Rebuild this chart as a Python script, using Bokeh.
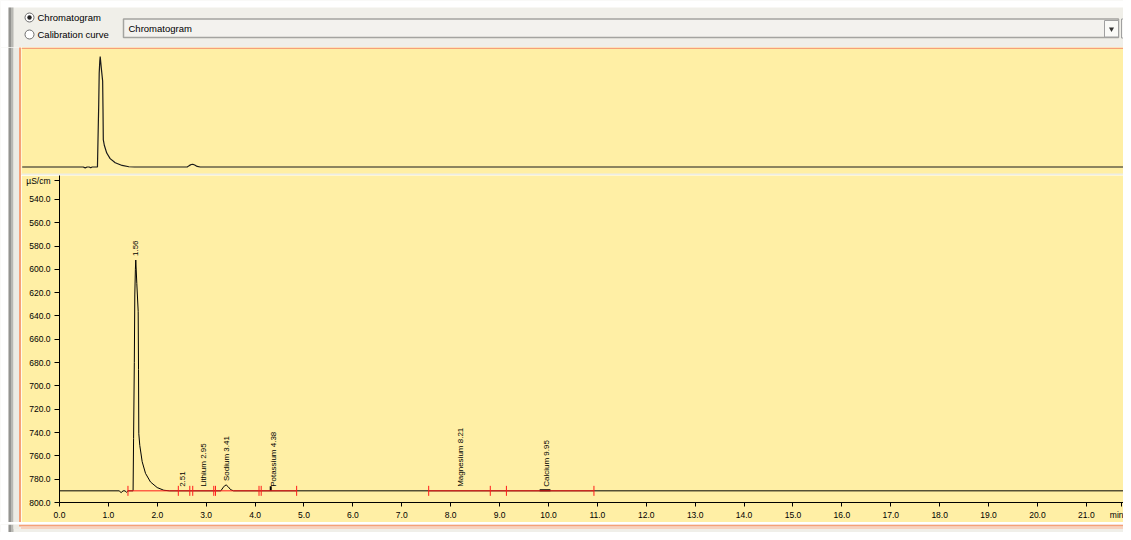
import math
from bokeh.plotting import figure
from bokeh.layouts import column, row
from bokeh.models import Range1d, FixedTicker, PrintfTickFormatter, BoxAnnotation
from bokeh.core.properties import value
from bokeh.embed import file_html
from bokeh.resources import INLINE

# ---------------- data ----------------
TIME = [0.0, 1.22, 1.26, 1.30, 1.34, 1.37, 1.40, 1.505, 1.515, 1.530, 1.540, 1.552,
        1.560, 1.581, 1.609, 1.616, 1.622, 1.642, 1.691, 1.759, 1.861, 1.998, 2.133,
        2.25, 3.30, 3.34, 3.38, 3.41, 3.45, 3.50, 3.56, 22.2]
SIGNAL = [790, 790, 791.5, 790, 790, 791.2, 790, 790, 745, 680, 622, 600,
          592, 612, 636, 686, 741, 751, 765, 775, 782.4, 787.2, 789.5,
          790, 790, 787.5, 785.5, 785, 786.5, 789, 790, 790]

PEAK_TIMES = [1.56, 2.51, 2.95, 3.41, 4.38, 8.21, 9.95]
PEAK_NAMES = ["", "", "Lithium", "Sodium", "Potassium", "Magnesium", "Calcium"]
PEAK_APEX = [592, 790, 790, 785, 790, 790, 790]

# small black peak markers (Potassium, Calcium)
MARK_T0 = [4.32, 9.82]
MARK_T1 = [4.32, 10.04]
MARK_V0 = [786.0, 789.4]
MARK_V1 = [790.0, 789.4]

INTEG_START = [1.40, 7.55]
INTEG_END = [4.85, 10.93]
INTEG_LEVEL = 790
INTEG_MARKS = [1.40, 2.43, 2.665, 2.725, 3.155, 3.19, 4.08, 4.125, 4.85,
               7.55, 8.81, 9.14, 10.93]

X_TICKS = [0, 1, 2, 3, 4, 5, 6, 7, 8, 9, 10, 11, 12, 13, 14, 15, 16, 17, 18, 19, 20, 21]
Y_TICKS = [540, 560, 580, 600, 620, 640, 660, 680, 700, 720, 740, 760, 780, 800]
Y_UNIT = "µS/cm"
X_UNIT = "min"
VIEW_OPTIONS = ["Chromatogram", "Calibration curve"]
SELECTED_VIEW = "Chromatogram"

# ---------------- styles ----------------
YELLOW = "#FFEFA5"
ORANGE = "#F5A078"
SALMON = "#F8D2BE"
WIN = "#F0EFE9"
DARKBAR = "#939390"
MIDBAR = "#B8B8B3"
LIGHTBAR = "#ECEBE4"
FONT = value("Liberation Sans")
W = 1123
COMMON = dict(toolbar_location=None, output_backend="svg", title_location=None,
              frame_align=False)


def chrome_fig(width, height, x0, y0):
    f = figure(width=width, height=height, x_range=Range1d(x0, x0 + width),
               y_range=Range1d(y0 + height, y0), min_border=0,
               x_axis_type=None, y_axis_type=None, **COMMON)
    f.background_fill_color = WIN
    f.border_fill_color = WIN
    f.outline_line_color = None
    return f


def box(f, l, r, t, b, color):
    f.quad(left=[l], right=[r], top=[t], bottom=[b], fill_color=color, line_color=None)


def deco(p, left, right, top, bottom, color):
    p.add_layout(BoxAnnotation(left=left, right=right, top=top, bottom=bottom,
                               left_units="canvas", right_units="canvas",
                               top_units="canvas", bottom_units="canvas",
                               fill_color=color, fill_alpha=1.0, line_color=None,
                               level="annotation"))


# ---------------- header (window chrome), page rows 0..47 ----------------
fh = chrome_fig(W, 47, 0, 0)
box(fh, 0, W, 0, 7, "#FFFFFF")
box(fh, 0, 8, 0, 47, "#FFFFFF")
box(fh, 8, 10.5, 7, 47, DARKBAR)
box(fh, 10.5, 13, 7, 47, MIDBAR)
fh.circle(x=[29, 29], y=[17, 34], radius=4.5, fill_color="white", line_color="#6d6d6d", line_width=1)
fh.circle(x=[29], y=[17], radius=2.2, fill_color="#222222", line_color=None)
fh.text(x=[37, 37], y=[17, 34], text=VIEW_OPTIONS, text_align="left", text_baseline="middle",
        text_font=FONT, text_font_size="9.5px", text_color="#000000")
fh.quad(left=[123], right=[1118], top=[18.5], bottom=[37], fill_color="#F3F2EE",
        line_color="#A4A4A0", line_width=1.5)
fh.text(x=[128], y=[28], text=[SELECTED_VIEW], text_align="left", text_baseline="middle",
        text_font=FONT, text_font_size="9.5px", text_color="#000000")
fh.quad(left=[1104], right=[1118], top=[20], bottom=[36.5], fill_color="#FAFAF7",
        line_color="#A0A0A0", line_width=1)
fh.scatter(x=[1111], y=[28.5], marker="inverted_triangle", size=5, fill_color="#333333", line_color=None)
fh.quad(left=[1121], right=[1131], top=[18.5], bottom=[37.5], fill_color="#F5F5F2",
        line_color="#A0A0A0", line_width=1)

# ---------------- left window border, page rows 47..522 ----------------
fl = chrome_fig(21, 475, 0, 47)
box(fl, 0, 8, 47, 522, "#FFFFFF")
box(fl, 8, 10.5, 47, 522, DARKBAR)
box(fl, 10.5, 13, 47, 522, MIDBAR)
box(fl, 13, 18.5, 47, 522, LIGHTBAR)
box(fl, 18.5, 20.5, 47, 522, ORANGE)
box(fl, 20.5, 21, 48.5, 522, YELLOW)
box(fl, 18.5, 21, 47, 48.5, ORANGE)

# ---------------- overview, page x 21..1123, rows 47..175 ----------------
OW, OH = W - 21, 128
fo = figure(width=OW, height=OH, x_range=Range1d(-0.014, 22.026), y_range=Range1d(805.2, 575.9),
            min_border=0, x_axis_type=None, y_axis_type=None, **COMMON)
fo.background_fill_color = YELLOW
fo.border_fill_color = YELLOW
fo.outline_line_color = None
fo.line(TIME, SIGNAL, line_color="#1a1a1a", line_width=1.2)
deco(fo, 0, OW, 0, 1.5, ORANGE)
deco(fo, 0, OW, 126, 128, "#EDEDE6")

# ---------------- main chromatogram, page x 21..1123, rows 175..522 ----------------
MH = 347
y_end = 519.5
p = figure(width=OW, height=MH, x_range=Range1d(0, 21.76), y_range=Range1d(800, y_end),
           min_border_left=38, min_border_right=0, min_border_top=0, min_border_bottom=18,
           **COMMON)
p.background_fill_color = YELLOW
p.border_fill_color = YELLOW
p.outline_line_color = None
p.grid.visible = False

x_unit_pos = 21.72
y_unit_pos = y_end + 4.5
for ax, ticks, out, std in ((p.xaxis[0], X_TICKS + [x_unit_pos], 4, 3),
                            (p.yaxis[0], Y_TICKS + [y_unit_pos], 5, 4)):
    ax.ticker = FixedTicker(ticks=ticks)
    ax.formatter = PrintfTickFormatter(format="%.1f")
    ax.major_label_text_font = "Liberation Sans"
    ax.major_label_text_font_size = "8.5px"
    ax.major_label_text_color = "#000000"
    ax.axis_line_color = "#000000"
    ax.major_tick_line_color = "#000000"
    ax.major_tick_out = out
    ax.major_tick_in = 0
    ax.minor_tick_line_color = None
    ax.major_label_standoff = std
p.xaxis[0].major_label_overrides = {x_unit_pos: X_UNIT}
p.yaxis[0].major_label_overrides = {y_unit_pos: Y_UNIT}

p.line(TIME, SIGNAL, line_color="#000000", line_width=1)
p.segment(x0=MARK_T0, y0=MARK_V0, x1=MARK_T1, y1=MARK_V1, line_color="#000000", line_width=2)
p.segment(x0=INTEG_START, y0=[INTEG_LEVEL] * len(INTEG_START), x1=INTEG_END,
          y1=[INTEG_LEVEL] * len(INTEG_END), line_color="#FF1A1A", line_width=1)
p.scatter(x=INTEG_MARKS, y=[INTEG_LEVEL] * len(INTEG_MARKS), marker="dash", angle=math.pi / 2,
          size=10, line_color="#FF1A1A", line_width=1)
labels = [(n + " " if n else "") + f"{t:.2f}" for n, t in zip(PEAK_NAMES, PEAK_TIMES)]
p.text(x=PEAK_TIMES, y=PEAK_APEX, text=labels, angle=math.pi / 2, text_align="left",
       text_baseline="middle", y_offset=-4, text_font=FONT, text_font_size="8px",
       text_color="#000000")

# ---------------- bottom window border, page rows 522..532 ----------------
fb = chrome_fig(W, 10, 0, 522)
box(fb, 0, 8, 522, 532, "#FFFFFF")
box(fb, 8, 10.5, 522, 532, DARKBAR)
box(fb, 10.5, 13, 522, 532, MIDBAR)
box(fb, 13, 18.5, 522, 526.5, LIGHTBAR)
box(fb, 18.5, W, 522, 524, ORANGE)
box(fb, 20.5, W, 524, 526.5, SALMON)
box(fb, 13, W, 529.5, 530.5, "#A8A8A4")

layout = column(fh, row(fl, column(fo, p, spacing=0), spacing=0), fb, spacing=0)
open("out.html", "w").write(file_html(layout, INLINE))
